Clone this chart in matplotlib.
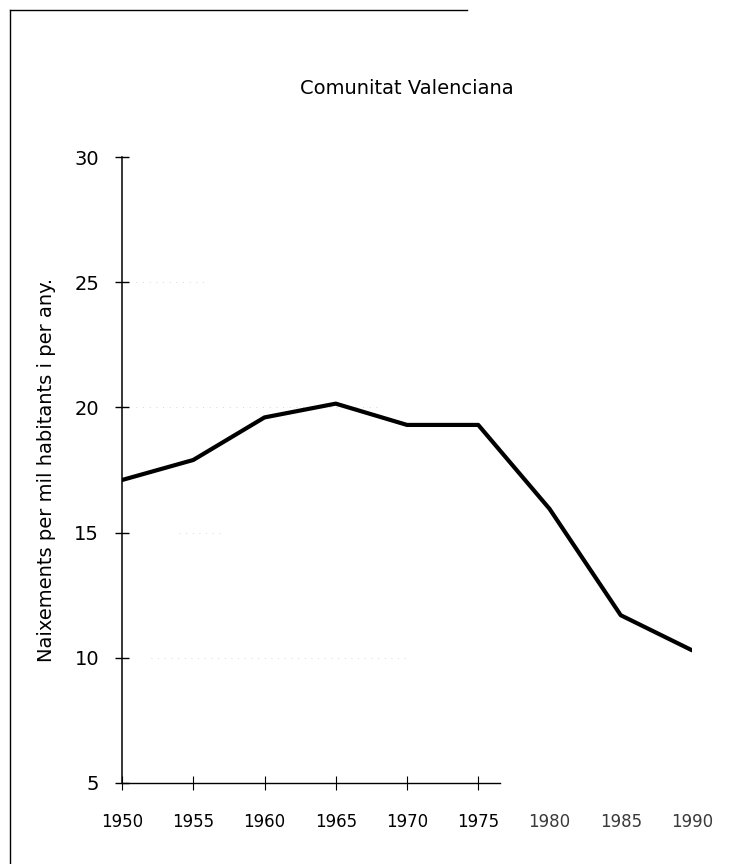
import matplotlib
matplotlib.use("Agg")
import matplotlib.pyplot as plt
from matplotlib.lines import Line2D

years = [1950, 1955, 1960, 1965, 1970, 1975, 1980, 1985, 1990]
births = [17.1, 17.9, 19.6, 20.15, 19.3, 19.3, 15.95, 11.7, 10.3]
yticks = [5, 10, 15, 20, 25, 30]
title = "Comunitat Valenciana"
ylabel = "Naixements per mil habitants i per any."

plt.rcParams['font.family'] = ['DejaVu Sans']

W, H = 747, 864
fig = plt.figure(figsize=(W / 100, H / 100), dpi=100)
L, R, T, B = 122, 692, 157, 783
ax = fig.add_axes([L / W, 1 - B / H, (R - L) / W, (B - T) / H])

ax.plot(years, births, color='black', lw=3.0, solid_joinstyle='round', solid_capstyle='round')

# faint scan-like dotted grid fragments
for yv, x0, x1 in [(10, 1952, 1970), (15, 1954, 1957), (20, 1951, 1968), (25, 1951, 1956)]:
    ax.plot([x0, x1], [yv, yv], color='#c8c8c8', lw=0.6, ls=(0, (1, 7)), zorder=0)

ax.set_xlim(1950, 1990)
ax.set_ylim(5, 30)
ax.set_xticks(years)
ax.set_xticklabels([str(y) for y in years])
ax.set_yticks(yticks)
ax.set_yticklabels([str(v) for v in yticks])

for s in ['top', 'right']:
    ax.spines[s].set_visible(False)
ax.spines['left'].set_linewidth(1.1)
ax.spines['bottom'].set_linewidth(1.0)
ax.spines['bottom'].set_bounds(1950, 1976.5)

ax.tick_params(axis='y', direction='inout', length=10, width=1.0, labelsize=14, pad=11.5)
ax.tick_params(axis='x', direction='inout', length=10, width=0.8, labelsize=12, pad=16.5)
for i, t in enumerate(ax.xaxis.get_major_ticks()):
    if years[i] > 1975:
        t.tick1line.set_visible(False)
        t.tick2line.set_visible(False)
for i, lbl in enumerate(ax.get_xticklabels()):
    if years[i] > 1975:
        lbl.set_color('#3a3a3a')

fig.text(47 / W, 1 - 470 / H, ylabel, rotation=90, ha='center', va='center', fontsize=14)
fig.text(407 / W, 1 - 88 / H, title, ha='center', va='center', fontsize=14)

# scanned page frame
fig.add_artist(Line2D([10 / W, 10 / W], [0, 1 - 10 / H], color='black', lw=1.0, transform=fig.transFigure))
fig.add_artist(Line2D([10 / W, 467 / W], [1 - 10 / H, 1 - 10 / H], color='black', lw=1.0, transform=fig.transFigure))

fig.savefig("out.png", dpi=100)
